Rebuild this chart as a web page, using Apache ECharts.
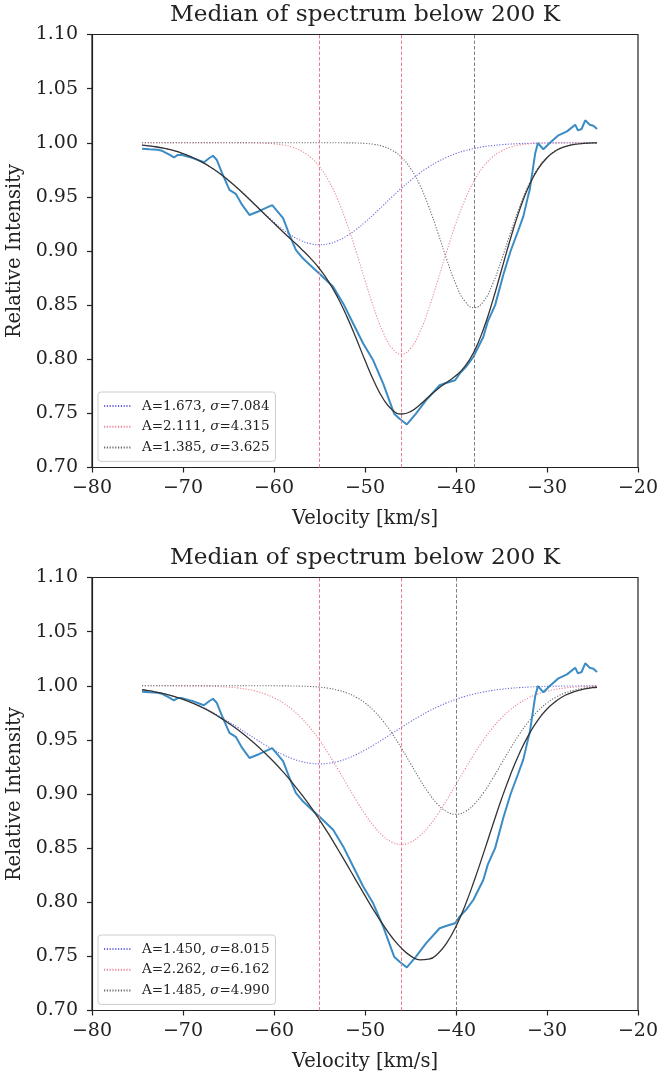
<!DOCTYPE html>
<html>
<head>
<meta charset="utf-8">
<script src="https://cdn.jsdelivr.net/npm/echarts@6/dist/echarts.min.js"></script>
<style>html,body{margin:0;padding:0;background:#fff;}#main{width:660px;height:1076px;}</style>
</head>
<body>
<div id="main"></div>
<script>
// ---------- DATA ----------
const chartTitle = 'Median of spectrum below 200 K';
const xTicks = [-80, -70, -60, -50, -40, -30, -20];
const yTicks = [0.70, 0.75, 0.80, 0.85, 0.90, 0.95, 1.00, 1.05, 1.10];

// observed median spectrum (same in both panels)
const obsVelocity = [-74.5, -73.7, -72.8, -72.3, -71.5, -71.0, -70.6, -70.1, -69.0, -67.7, -67.1, -66.7, -66.3, -65.7, -64.9, -64.2, -63.5, -62.7, -61.6, -60.2, -59.0, -58.3, -57.6, -56.8, -55.9, -55.0, -53.5, -52.4, -51.3, -50.2, -49.1, -48.0, -46.8, -46.2, -45.4, -44.4, -43.3, -41.8, -41.1, -40.1, -39.6, -38.9, -38.1, -37.0, -36.5, -35.7, -34.8, -34.0, -33.2, -32.6, -32.1, -31.9, -31.3, -31.0, -30.4, -29.7, -28.8, -27.8, -26.9, -26.6, -26.2, -25.8, -25.3, -24.9, -24.5];
const obsIntensity = [0.9945, 0.994, 0.9935, 0.9926, 0.989, 0.9864, 0.9886, 0.9886, 0.986, 0.982, 0.9859, 0.988, 0.9843, 0.972, 0.9565, 0.9528, 0.9426, 0.9333, 0.937, 0.9423, 0.9303, 0.9148, 0.901, 0.893, 0.886, 0.879, 0.867, 0.8516, 0.833, 0.8145, 0.799, 0.7775, 0.7497, 0.745, 0.7398, 0.7497, 0.762, 0.776, 0.778, 0.7806, 0.7867, 0.7929, 0.8021, 0.8206, 0.835, 0.85, 0.878, 0.90, 0.918, 0.932, 0.95, 0.9565, 0.99, 0.9997, 0.994, 0.9997, 1.0065, 1.0105, 1.0167, 1.0114, 1.0127, 1.0207, 1.0167, 1.0157, 1.0127];

// model curves sampled on this velocity grid
const modelVelocity = [-74.5, -74, -73, -72, -71, -70, -69, -68, -67, -66, -65, -64, -63, -62, -61, -60, -59, -58, -57, -56, -55, -54, -53, -52, -51, -50, -49, -48, -47, -46, -45, -44, -43, -42, -41, -40, -39, -38, -37, -36, -35, -34, -33, -32, -31, -30, -29, -28, -27, -26, -25, -24.5];

// top panel
const topNames = ['A=1.673, σ=7.084', 'A=2.111, σ=4.315', 'A=1.385, σ=3.625'];
const topCenters = [-55, -46, -38];
const topComp1 = [0.9978, 0.9974, 0.9963, 0.9947, 0.9927, 0.9900, 0.9866, 0.9825, 0.9776, 0.9718, 0.9652, 0.9580, 0.9502, 0.9422, 0.9342, 0.9266, 0.9197, 0.9139, 0.9095, 0.9067, 0.9058, 0.9067, 0.9095, 0.9139, 0.9197, 0.9266, 0.9342, 0.9422, 0.9502, 0.9580, 0.9652, 0.9718, 0.9776, 0.9825, 0.9866, 0.9900, 0.9927, 0.9947, 0.9963, 0.9974, 0.9982, 0.9988, 0.9992, 0.9995, 0.9997, 0.9998, 0.9999, 0.9999, 0.9999, 1.0, 1.0, 1.0];
const topComp2 = [1.0, 1.0, 1.0, 1.0, 1.0, 1.0, 1.0, 1.0, 1.0, 1.0, 1.0, 1.0, 1.0, 0.9998, 0.9995, 0.9990, 0.9979, 0.9959, 0.9924, 0.9867, 0.9778, 0.9650, 0.9476, 0.9258, 0.9003, 0.8730, 0.8467, 0.8247, 0.8100, 0.8048, 0.8100, 0.8247, 0.8467, 0.8730, 0.9003, 0.9258, 0.9476, 0.9650, 0.9778, 0.9867, 0.9924, 0.9959, 0.9979, 0.9990, 0.9995, 0.9998, 0.9999, 1.0, 1.0, 1.0, 1.0, 1.0];
const topComp3 = [1.0, 1.0, 1.0, 1.0, 1.0, 1.0, 1.0, 1.0, 1.0, 1.0, 1.0, 1.0, 1.0, 1.0, 1.0, 1.0, 1.0, 1.0, 1.0, 1.0, 1.0, 1.0, 1.0, 0.9999, 0.9998, 0.9994, 0.9985, 0.9966, 0.9930, 0.9866, 0.9764, 0.9613, 0.9411, 0.9171, 0.8918, 0.8691, 0.8533, 0.8476, 0.8533, 0.8691, 0.8918, 0.9171, 0.9411, 0.9613, 0.9764, 0.9866, 0.9930, 0.9966, 0.9985, 0.9994, 0.9998, 0.9999];
const topFit = [0.9978, 0.9974, 0.9963, 0.9947, 0.9927, 0.9900, 0.9866, 0.9825, 0.9776, 0.9718, 0.9652, 0.9580, 0.9501, 0.9420, 0.9337, 0.9256, 0.9176, 0.9098, 0.9019, 0.8934, 0.8836, 0.8717, 0.8571, 0.8396, 0.8198, 0.7990, 0.7794, 0.7635, 0.7532, 0.7494, 0.7516, 0.7578, 0.7654, 0.7726, 0.7787, 0.7849, 0.7936, 0.8073, 0.8274, 0.8532, 0.8824, 0.9118, 0.9382, 0.9598, 0.9756, 0.9862, 0.9928, 0.9965, 0.9984, 0.9994, 0.9998, 0.9999];

// bottom panel
const botNames = ['A=1.450, σ=8.015', 'A=2.262, σ=6.162', 'A=1.485, σ=4.990'];
const botCenters = [-55, -46, -40];
const botComp1 = [0.9963, 0.9957, 0.9942, 0.9924, 0.9902, 0.9875, 0.9843, 0.9806, 0.9765, 0.9718, 0.9668, 0.9616, 0.9561, 0.9507, 0.9454, 0.9406, 0.9363, 0.9327, 0.9300, 0.9284, 0.9278, 0.9284, 0.9300, 0.9327, 0.9363, 0.9406, 0.9454, 0.9507, 0.9561, 0.9616, 0.9668, 0.9718, 0.9765, 0.9806, 0.9843, 0.9875, 0.9902, 0.9924, 0.9942, 0.9957, 0.9968, 0.9977, 0.9983, 0.9988, 0.9992, 0.9994, 0.9996, 0.9998, 0.9998, 0.9999, 0.9999, 0.9999];
const botComp2 = [1.0, 1.0, 1.0, 1.0, 1.0, 0.9999, 0.9999, 0.9998, 0.9996, 0.9992, 0.9987, 0.9980, 0.9967, 0.9950, 0.9924, 0.9889, 0.9842, 0.9780, 0.9703, 0.9608, 0.9496, 0.9370, 0.9232, 0.9089, 0.8947, 0.8814, 0.8700, 0.8611, 0.8555, 0.8536, 0.8555, 0.8611, 0.8700, 0.8814, 0.8947, 0.9089, 0.9232, 0.9370, 0.9496, 0.9608, 0.9703, 0.9780, 0.9842, 0.9889, 0.9924, 0.9950, 0.9967, 0.9980, 0.9987, 0.9992, 0.9996, 0.9997];
const botComp3 = [1.0, 1.0, 1.0, 1.0, 1.0, 1.0, 1.0, 1.0, 1.0, 1.0, 1.0, 1.0, 1.0, 1.0, 1.0, 1.0, 0.9999, 0.9998, 0.9996, 0.9993, 0.9987, 0.9977, 0.9960, 0.9934, 0.9895, 0.9841, 0.9767, 0.9672, 0.9556, 0.9424, 0.9282, 0.9139, 0.9009, 0.8905, 0.8837, 0.8813, 0.8837, 0.8905, 0.9009, 0.9139, 0.9282, 0.9424, 0.9556, 0.9672, 0.9767, 0.9841, 0.9895, 0.9934, 0.9960, 0.9977, 0.9987, 0.9990];
const botFit = [0.9963, 0.9957, 0.9942, 0.9924, 0.9902, 0.9874, 0.9842, 0.9804, 0.9761, 0.9710, 0.9655, 0.9596, 0.9528, 0.9457, 0.9378, 0.9295, 0.9204, 0.9105, 0.8999, 0.8885, 0.8761, 0.8631, 0.8492, 0.8350, 0.8205, 0.8061, 0.7921, 0.7790, 0.7672, 0.7576, 0.7505, 0.7468, 0.7474, 0.7525, 0.7627, 0.7777, 0.7971, 0.8199, 0.8447, 0.8704, 0.8953, 0.9181, 0.9381, 0.9549, 0.9683, 0.9785, 0.9858, 0.9912, 0.9945, 0.9968, 0.9982, 0.9986];

// ---------- STYLE ----------
const FONT = 'DejaVu Serif';
const compColors = ['#6b6bdc', '#ea8796', '#6a6a6a'];
const vlineColors = ['#ec7d90', '#ec7d90', '#808080'];
const obsColor = '#3b8cc4';
const fitColor = '#333333';

const pairs = (xs, ys) => xs.map((x, i) => [x, ys[i]]);
const minus = v => String(v).replace('-', '\u2212');

function panelAxes(gi) {
  const xa = {
    gridIndex: gi, type: 'value', min: -80, max: -20, interval: 10,
    name: 'Velocity [km/s]', nameLocation: 'middle', nameGap: 41,
    nameTextStyle: { fontFamily: FONT, fontSize: 19.5, color: '#222' },
    axisLine: { show: true, onZero: false, lineStyle: { color: '#222', width: 1.2 } },
    axisTick: { show: true, inside: false, length: 5, lineStyle: { color: '#222', width: 1.2 } },
    axisLabel: { fontFamily: FONT, fontSize: 19, color: '#222', margin: 11, formatter: v => minus(v) },
    splitLine: { show: false }
  };
  const ya = {
    gridIndex: gi, type: 'value', min: 0.70, max: 1.10, interval: 0.05,
    name: 'Relative Intensity', nameLocation: 'middle', nameGap: 54,
    nameTextStyle: { fontFamily: FONT, fontSize: 19.5, color: '#222' },
    axisLine: { show: true, onZero: false, lineStyle: { color: '#222', width: 1.2 } },
    axisTick: { show: true, inside: false, length: 5, lineStyle: { color: '#222', width: 1.2 } },
    axisLabel: { fontFamily: FONT, fontSize: 19, color: '#222', margin: 14, formatter: v => v.toFixed(2) },
    splitLine: { show: false }
  };
  return [xa, ya];
}

function panelSeries(gi, names, comps, centers, fit) {
  const s = [];
  // vertical dashed guide lines at the component centres, one host series per line
  centers.forEach((c, k) => {
    s.push({
      name: 'centre' + gi + '_' + k, type: 'line', xAxisIndex: gi, yAxisIndex: gi,
      data: [], color: vlineColors[k], symbol: 'circle', showSymbol: false, z: 2,
      itemStyle: { color: vlineColors[k] },
      lineStyle: { color: vlineColors[k] },
      markLine: {
        silent: true, symbol: ['none', 'none'], label: { show: false },
        itemStyle: { color: vlineColors[k] },
        lineStyle: { color: vlineColors[k], width: 1, type: [3.5, 2] },
        data: [{ xAxis: c }]
      }
    });
  });
  comps.forEach((cv, k) => {
    s.push({
      name: names[k], type: 'line', xAxisIndex: gi, yAxisIndex: gi,
      data: pairs(modelVelocity, cv), smooth: true, symbol: 'none', z: 3,
      lineStyle: { color: compColors[k], width: 1.1, type: [1.2, 1.6] },
      itemStyle: { color: compColors[k] }
    });
  });
  s.push({
    name: 'obs' + gi, type: 'line', xAxisIndex: gi, yAxisIndex: gi,
    data: pairs(obsVelocity, obsIntensity), symbol: 'none', z: 4,
    lineStyle: { color: obsColor, width: 2 }
  });
  s.push({
    name: 'fit' + gi, type: 'line', xAxisIndex: gi, yAxisIndex: gi,
    data: pairs(modelVelocity, fit), smooth: true, symbol: 'none', z: 5,
    lineStyle: { color: fitColor, width: 1.3 }
  });
  return s;
}

function legendFor(names, top) {
  return {
    data: names, orient: 'vertical', left: 98, top: top,
    itemWidth: 28, itemHeight: 14, itemGap: 6.7,
    padding: [7, 6, 7, 5],
    backgroundColor: 'rgba(255,255,255,0.85)', borderColor: '#cccccc', borderWidth: 1, borderRadius: 3,
    selectedMode: false,
    itemStyle: { opacity: 0 },
    formatter: n => '{p|}' + n.replace('σ', '{s|σ}'),
    textStyle: { fontFamily: FONT, fontSize: 13.5, color: '#222', lineHeight: 14,
      rich: {
        p: { width: 5 },
        s: { fontFamily: FONT, fontStyle: 'italic', fontSize: 13.5, color: '#222' }
      } }
  };
}

const a0 = panelAxes(0), a1 = panelAxes(1);
const option = {
  animation: false,
  backgroundColor: '#ffffff',
  title: [
    { text: chartTitle, left: 365, top: 3.5, textAlign: 'center', padding: 0,
      textStyle: { fontFamily: FONT, fontSize: 23.2, fontWeight: 'normal', color: '#222' } },
    { text: chartTitle, left: 365, top: 546, textAlign: 'center', padding: 0,
      textStyle: { fontFamily: FONT, fontSize: 23.2, fontWeight: 'normal', color: '#222' } }
  ],
  grid: [
    { left: 92, right: 22, top: 34.5, height: 433, show: true, borderColor: '#222', borderWidth: 1.2,
      containLabel: false, outerBoundsMode: 'none' },
    { left: 92, right: 22, top: 577.5, height: 433, show: true, borderColor: '#222', borderWidth: 1.2,
      containLabel: false, outerBoundsMode: 'none' }
  ],
  xAxis: [a0[0], a1[0]],
  yAxis: [a0[1], a1[1]],
  legend: [legendFor(topNames, 392), legendFor(botNames, 935)],
  series: [].concat(
    panelSeries(0, topNames, [topComp1, topComp2, topComp3], topCenters, topFit),
    panelSeries(1, botNames, [botComp1, botComp2, botComp3], botCenters, botFit)
  )
};
const chart = echarts.init(document.getElementById('main'), null, { renderer: 'canvas' });
chart.setOption(option);
</script>
</body>
</html>
